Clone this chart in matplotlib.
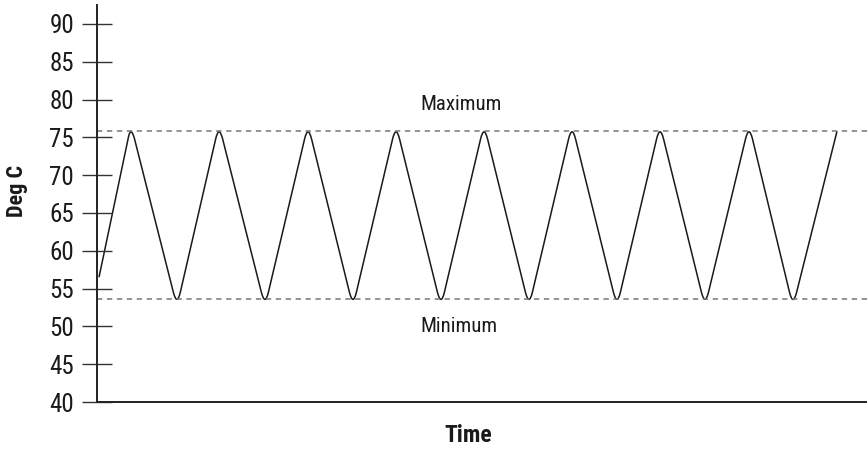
import numpy as np
import matplotlib
matplotlib.use('Agg')
import matplotlib.pyplot as plt
from matplotlib import font_manager
from matplotlib.path import Path
from matplotlib.patches import PathPatch

# temperature cycle (time in arbitrary units)
time = [2, 34, 80, 122, 168, 211, 256, 299, 344, 387, 432, 475, 520, 563, 608, 652, 696, 740]
temp = [56.5, 75.8, 53.5, 75.8, 53.5, 75.8, 53.5, 75.8, 53.5, 75.8, 53.5, 75.8, 53.5, 75.8, 53.5, 75.8, 53.5, 75.8]
t_max = 75.8
t_min = 53.6
y_ticks = [40, 45, 50, 55, 60, 65, 70, 75, 80, 85, 90]

# pick a narrow font if one is installed
fonts = [(f.name, f.stretch) for f in font_manager.fontManager.ttflist]
names = set(n for n, s in fonts)
stretch = 'normal'
if 'Liberation Sans Narrow' in names:
    family = 'Liberation Sans Narrow'
elif 'Roboto Condensed' in names:
    family = 'Roboto Condensed'
elif any(n == 'DejaVu Sans' and s not in ('normal', 500) for n, s in fonts):
    family = 'DejaVu Sans'
    stretch = 'condensed'
else:
    family = 'Liberation Sans'
plt.rcParams['font.family'] = [family, 'DejaVu Sans']
plt.rcParams['font.stretch'] = stretch

fig = plt.figure(figsize=(8.67, 4.51), dpi=100)
ax = fig.add_axes([97 / 867, 49 / 451, 770 / 867, 397 / 451])
ax.set_xlim(0, 770)
ax.set_ylim(40, 92.5)

# zigzag with rounded tips: control point pushed out so the curve's apex sits on the value
f = 0.08
pts = np.column_stack([time, temp]).astype(float)
ctrl = pts.copy()
for i in range(1, len(pts) - 1):
    d = 0.5 * (pts[i - 1, 1] + pts[i + 1, 1]) - pts[i, 1]
    ctrl[i, 1] = pts[i, 1] - f * d / 2
verts = [pts[0]]
codes = [Path.MOVETO]
for i in range(1, len(pts) - 1):
    v = ctrl[i]
    a = v + f * (ctrl[i - 1] - v)
    b = v + f * (ctrl[i + 1] - v)
    verts += [a, v, b]
    codes += [Path.LINETO, Path.CURVE3, Path.CURVE3]
verts.append(pts[-1])
codes.append(Path.LINETO)
ax.add_patch(PathPatch(Path(verts, codes), facecolor='none', edgecolor='#1a1a1a', lw=1.1))

# limit lines
ax.axhline(t_max, color='#777777', lw=1.1, ls=(0, (3.5, 3)))
ax.axhline(t_min, color='#777777', lw=1.1, ls=(0, (3.5, 3)))
ax.text(323, 79.3, 'Maximum', ha='left', va='center', fontsize=15, color='#1a1a1a')
ax.text(323, 50.0, 'Minimum', ha='left', va='center', fontsize=15, color='#1a1a1a')

# axes styling
for s in ['top', 'right']:
    ax.spines[s].set_visible(False)
ax.spines['left'].set_linewidth(1.4)
ax.spines['bottom'].set_linewidth(1.4)
ax.spines['left'].set_color('#222222')
ax.spines['bottom'].set_color('#222222')
ax.set_yticks(y_ticks)
ax.set_xticks([])
ax.tick_params(axis='y', direction='inout', length=21, width=1.0, color='#333333',
               labelsize=18, pad=6, labelcolor='#1a1a1a')

ax.set_ylabel('Deg C', fontsize=16, fontweight='bold', color='#1a1a1a')
ax.yaxis.set_label_coords(-0.09, 0.531)
ax.set_xlabel('Time', fontsize=17, fontweight='bold', color='#1a1a1a')
ax.xaxis.set_label_coords(0.482, -0.055)

fig.savefig('out.png', dpi=100)
